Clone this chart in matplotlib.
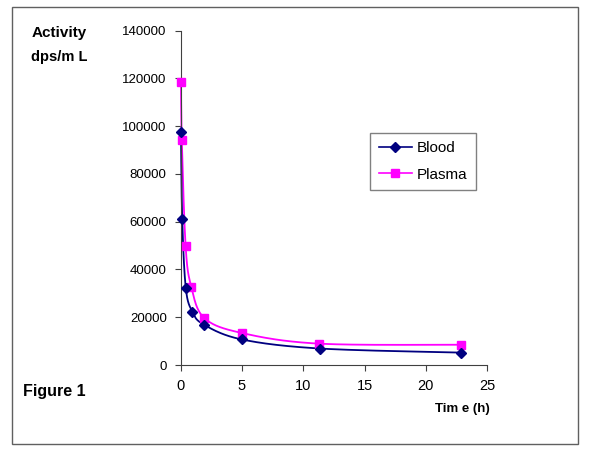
import numpy as np
import matplotlib
matplotlib.use('Agg')
import matplotlib.pyplot as plt
from matplotlib.patches import Rectangle

plt.rcParams['font.family'] = ['Liberation Sans', 'DejaVu Sans']

# data
blood_t = [0.03, 0.13, 0.42, 0.95, 1.9, 5.0, 11.4, 22.9]
blood_act = [97400, 61300, 32400, 22400, 16900, 10700, 6900, 5200]
plasma_t = [0.03, 0.10, 0.41, 0.87, 1.93, 5.0, 11.3, 22.9]
plasma_act = [118300, 94000, 49700, 32800, 19700, 13400, 8950, 8500]

x_ticks = [0, 5, 10, 15, 20, 25]
y_ticks = [0, 20000, 40000, 60000, 80000, 100000, 120000, 140000]

BLOOD = '#000080'
PLASMA = '#FF00FF'


def smooth_curve(x, y, sx, sy, n=30):
    """Excel-like smoothed line: cubic Bezier through the points (scaled space)."""
    p = np.column_stack([np.asarray(x) * sx, np.asarray(y) * sy])
    pts = [p[0]] + list(p) + [p[-1]]
    out = []
    s = np.linspace(0, 1, n)[:, None]
    for i in range(1, len(pts) - 2):
        p0, p1, p2, p3 = pts[i - 1], pts[i], pts[i + 1], pts[i + 2]
        c1 = p1 + (p2 - p0) / 6.0
        c2 = p2 - (p3 - p1) / 6.0
        seg = ((1 - s) ** 3) * p1 + 3 * ((1 - s) ** 2) * s * c1 \
            + 3 * (1 - s) * s ** 2 * c2 + s ** 3 * p2
        out.append(seg)
    out = np.vstack(out)
    return out[:, 0] / sx, out[:, 1] / sy


fig = plt.figure(figsize=(6.0, 4.49), dpi=100)
ax = fig.add_axes([0.301, 0.187, 0.511, 0.745])

# scale so smoothing happens in roughly pixel space
sx, sy = 306 / 25.0, 334 / 140000.0
bx, by = smooth_curve(blood_t, blood_act, sx, sy)
px, py = smooth_curve(plasma_t, plasma_act, sx, sy)

ax.plot(px, py, color=PLASMA, linewidth=1.3, zorder=2, clip_on=False)
ax.plot(bx, by, color=BLOOD, linewidth=1.3, zorder=2, clip_on=False)
ax.plot(blood_t, blood_act, linestyle='none', marker='D', markersize=5,
        color=BLOOD, zorder=4, clip_on=False)
ax.plot(plasma_t, plasma_act, linestyle='none', marker='s', markersize=6,
        color=PLASMA, zorder=3, clip_on=False)

# legend proxies
h1, = ax.plot([], [], color=BLOOD, marker='D', markersize=5.5, linewidth=1.2, label='Blood')
h2, = ax.plot([], [], color=PLASMA, marker='s', markersize=5.5, linewidth=1.2, label='Plasma')
leg = fig.legend(handles=[h1, h2], loc='upper left',
                 bbox_to_anchor=(0.617, 0.704), bbox_transform=fig.transFigure,
                 fontsize=11, handlelength=2.2, handletextpad=0.3,
                 borderaxespad=0, borderpad=0.55, labelspacing=0.8,
                 fancybox=False, framealpha=1, edgecolor='#808080')
leg.get_frame().set_linewidth(1.0)

ax.set_xlim(0, 25)
ax.set_ylim(0, 140000)
ax.set_xticks(x_ticks)
ax.set_yticks(y_ticks)
ax.set_yticklabels([str(v) for v in y_ticks])
ax.tick_params(length=4, width=0.8, color='#404040', pad=6)
ax.tick_params(axis='y', labelsize=9.5)
ax.tick_params(axis='x', labelsize=10.5)
for side in ('top', 'right'):
    ax.spines[side].set_visible(False)
for side in ('left', 'bottom'):
    ax.spines[side].set_color('#404040')
    ax.spines[side].set_linewidth(0.8)

fig.text(0.052, 0.926, 'Activity', fontsize=11, fontweight='bold', va='center')
fig.text(0.052, 0.874, 'dps/m L', fontsize=10.5, fontweight='bold', va='center')
fig.text(0.038, 0.129, 'Figure 1', fontsize=11.5, fontweight='bold', va='center')
fig.text(0.725, 0.089, 'Tim e (h)', fontsize=9.5, fontweight='bold', va='center')

# outer frame
fig.patches.append(Rectangle((0.0195, 0.011), 0.944, 0.973, transform=fig.transFigure,
                             fill=False, edgecolor='#606060', linewidth=1.0))

fig.savefig('out.png', dpi=100)
